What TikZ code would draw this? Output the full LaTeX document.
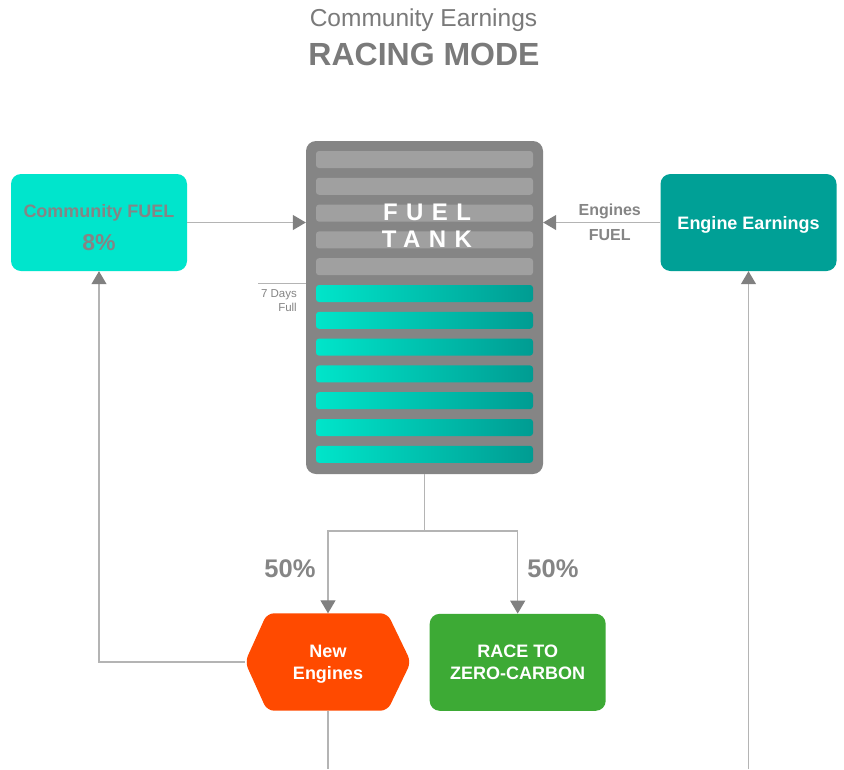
\documentclass[tikz,border=0pt]{standalone}
\usepackage{fontspec}
\setmainfont{Liberation Sans}
\usetikzlibrary{arrows.meta,backgrounds}
\definecolor{txtgray}{HTML}{858585}
\definecolor{titlegray}{HTML}{7A7A7A}
\definecolor{tankgray}{HTML}{858585}
\definecolor{bargray}{HTML}{A0A0A0}
\definecolor{tealL}{HTML}{00E5CA}
\definecolor{tealR}{HTML}{009C92}
\definecolor{commfill}{HTML}{00E5CC}
\definecolor{engfill}{HTML}{00A096}
\definecolor{neworange}{HTML}{FF4A00}
\definecolor{racegreen}{HTML}{3DAA35}
\definecolor{linegray}{HTML}{B4B4B4}
\definecolor{tipgray}{HTML}{808080}
\tikzset{
  conn/.style={draw=linegray, line width=1.2pt},
  arr/.style={conn, -{Triangle[length=13pt,width=15pt,color=tipgray]}},
  box/.style={rounded corners=10pt, minimum width=176pt, minimum height=97pt,
    inner sep=0pt, align=center, text=white, text depth=0pt, font=\bfseries\fontsize{18}{21.7}\selectfont},
  lbl/.style={anchor=base, text=txtgray, inner sep=0pt},
}
\begin{document}
\begin{tikzpicture}[x=1pt,y=-1pt]
\useasboundingbox (0,0) rectangle (844,769);
\begin{scope}[on background layer]
\fill[white] (0,0) rectangle (844,769);
\end{scope}
% title
\node[lbl, text=titlegray, font=\fontsize{24.5}{30}\selectfont] (t1) at (423.5,26) {Community Earnings};
\node[lbl, text=titlegray, font=\bfseries\fontsize{32}{38}\selectfont] (t2) at (424,65.5) {RACING MODE};
% tank
\node[fill=tankgray, rounded corners=10pt, minimum width=237pt, minimum height=333pt, inner sep=0pt] (tank) at (424.5,307.5) {};
\foreach \i in {0,...,4}
  \fill[bargray, rounded corners=3pt] (316,{151+26.8*\i}) rectangle (533,{168+26.8*\i});
\foreach \i in {5,...,11}
  \shade[left color=tealL, right color=tealR, rounded corners=3pt] (316,{151+26.8*\i}) rectangle (533,{168+26.8*\i});
\node[inner sep=0pt, align=center, text=white,
  font=\bfseries\fontsize{24}{27.5}\selectfont\addfontfeatures{LetterSpace=35}] (fueltxt) at (427,225.7) {FUEL\\TANK};
% community fuel
\node[box, fill=commfill] (comm) at (99,222.5) {};
\node[lbl, font=\bfseries\fontsize{18}{22}\selectfont] (commtxt) at (99,217) {Community FUEL};
\node[lbl, font=\bfseries\fontsize{23}{26}\selectfont] (commpct) at (99,250.7) {8\%};
% engine earnings
\node[box, fill=engfill] (eng) at (748.5,222.5) {Engine Earnings};
% new engines
\node[inner sep=0pt, minimum width=165.5pt, minimum height=97pt, align=center, text=white, text depth=0pt,
  font=\bfseries\fontsize{18}{21.7}\selectfont] (new) at (328,662) {New\\Engines};
\begin{scope}[on background layer]
\fill[neworange, rounded corners=7pt] (new.west) -- ([xshift=22pt]new.north west) -- ([xshift=-23.5pt]new.north east)
  -- (new.east) -- ([xshift=-23.5pt]new.south east) -- ([xshift=22pt]new.south west) -- cycle;
\end{scope}
% race
\node[box, fill=racegreen] (race) at (517.7,662.3) {RACE TO\\ZERO-CARBON};
% connectors
\draw[arr] (comm.east) -- (comm.east -| tank.west);
\draw[arr] (eng.west) -- (eng.west -| tank.east);
\node[lbl, font=\bfseries\fontsize{16}{19}\selectfont] (englbl1) at (609.7,215) {Engines};
\node[lbl, font=\bfseries\fontsize{16}{19}\selectfont] (englbl2) at (609.7,240) {FUEL};
\coordinate (split) at (424.5,531);
\draw[conn] (tank.south) -- (split);
\draw[arr] (split) -| (new.north);
\draw[arr] (split) -| (race.north);
\node[lbl, font=\bfseries\fontsize{25.5}{30}\selectfont] (p1) at (290,577.7) {50\%};
\node[lbl, font=\bfseries\fontsize{25.5}{30}\selectfont] (p2) at (553,577.7) {50\%};
\draw[arr] (new.west) -| (comm.south);
\coordinate (bot1) at (328,769);
\draw[conn] (new.south) -- (bot1);
\coordinate (bot2) at (748.5,769);
\draw[arr] (bot2) -- (eng.south);
% 7 days full
\coordinate (dayL) at (258,283);
\draw[conn, line width=1pt] (dayL) -- (dayL -| tank.west);
\node[lbl, anchor=base east, font=\fontsize{11.5}{14}\selectfont] (days) at (297,297.7) {7 Days};
\node[lbl, anchor=base east, font=\fontsize{11.5}{14}\selectfont] (full) at (297,311.7) {Full};
\end{tikzpicture}
\end{document}
